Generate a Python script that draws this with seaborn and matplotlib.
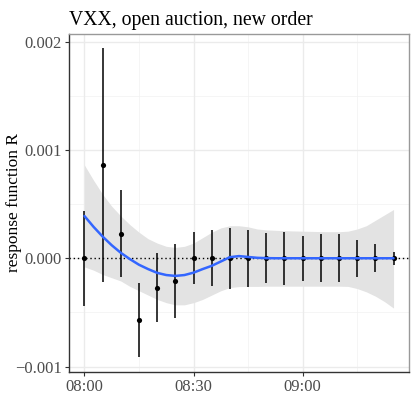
import numpy as np
import pandas as pd
import matplotlib
matplotlib.use("Agg")
import matplotlib.pyplot as plt
import seaborn as sns

# ---- data ----
times = ["08:00", "08:05", "08:10", "08:15", "08:20", "08:25", "08:30", "08:35", "08:40",
         "08:45", "08:50", "08:55", "09:00", "09:05", "09:10", "09:15", "09:20", "09:25"]
response = [0.0, 0.00086, 0.000227, -0.000567, -0.000273, -0.000209, 0.0, 0.0, 0.0,
            0.0, 0.0, 0.0, 0.0, 0.0, 0.0, 0.0, 0.0, 0.0]
err = [0.00044, 0.00108, 0.0004, 0.00034, 0.00032, 0.00034, 0.00024, 0.00026, 0.00028,
       0.000265, 0.00023, 0.000245, 0.00021, 0.00022, 0.00022, 0.00017, 0.00013, 0.00006]

# smoother (minutes after 08:00)
smooth_t = [0, 2.5, 5, 7.5, 10, 12.5, 15, 17.5, 20, 22.5, 25, 27.5, 30, 32.5, 35, 37.5,
            40, 42.5, 45, 47.5, 50, 52.5, 55, 57.5, 60, 62.5, 65, 67.5, 70, 72.5, 75,
            77.5, 80, 82.5, 85]
smooth_y = [0.00039, 0.00029, 0.0002, 0.00012, 0.00005, -0.000008, -0.00006, -0.0001,
            -0.000135, -0.000155, -0.000163, -0.000155, -0.000133, -0.0001, -0.00007,
            -0.00003, 0.00001, 0.00002, 0.000012, 0.000004, 0.000001, 0.0, 0.0, 0.0, 0.0,
            0.0, 0.0, 0.0, 0.0, 0.0, 0.0, 0.0, 0.0, 0.0, 0.0]
smooth_hi = [0.00086, 0.00072, 0.00059, 0.00048, 0.00039, 0.00031, 0.00024, 0.00018,
             0.00014, 0.00011, 0.0001, 0.00011, 0.00014, 0.00019, 0.00024, 0.00028,
             0.0003, 0.0003, 0.00029, 0.00027, 0.000262, 0.000258, 0.000255, 0.000252,
             0.00025, 0.000248, 0.000246, 0.000245, 0.000245, 0.00025, 0.00027, 0.0003,
             0.00035, 0.0004, 0.00045]
smooth_lo = [-0.00008, -0.00011, -0.00015, -0.00018, -0.00021, -0.00026, -0.0003,
             -0.00034, -0.00038, -0.00041, -0.00043, -0.00043, -0.00041, -0.00038,
             -0.00034, -0.0003, -0.00027, -0.000262, -0.00026, -0.00026, -0.000258,
             -0.000258, -0.000258, -0.000258, -0.000258, -0.000258, -0.000258, -0.000258,
             -0.000258, -0.00026, -0.00028, -0.00031, -0.00035, -0.0004, -0.00046]

x_ticks = ["08:00", "08:30", "09:00"]
y_ticks = [-0.001, 0.000, 0.001, 0.002]
y_tick_labels = ["\u22120.001", "0.000", "0.001", "0.002"]
title = "VXX, open auction, new order"
y_label = "response function R"


def to_min(s):
    h, m = s.split(":")
    return (int(h) - 8) * 60 + int(m)


df = pd.DataFrame({"t": [to_min(s) for s in times], "r": response, "e": err})
sm = pd.DataFrame({"t": smooth_t, "y": smooth_y, "lo": smooth_lo, "hi": smooth_hi})

sns.set_theme(style="white")
plt.rcParams["font.family"] = ["Liberation Serif", "DejaVu Serif"]

fig = plt.figure(figsize=(4.15, 4.15), dpi=100)
ax = fig.add_axes([69 / 415, 1 - 372 / 415, 340 / 415, 338 / 415])

# grid
for v in [15, 45, 75]:
    ax.axvline(v, color="#F2F2F2", lw=0.5, zorder=0)
for v in [-0.0005, 0.0005, 0.0015]:
    ax.axhline(v, color="#F2F2F2", lw=0.5, zorder=0)
for v in [to_min(s) for s in x_ticks]:
    ax.axvline(v, color="#EBEBEB", lw=1.0, zorder=0)
for v in y_ticks:
    ax.axhline(v, color="#EBEBEB", lw=1.0, zorder=0)

ax.fill_between(sm["t"], sm["lo"], sm["hi"], color="#E3E3E3", lw=0, zorder=1)
ax.axhline(0, color="black", lw=1.0, ls=(0, (1, 2)), zorder=2)
ax.vlines(df["t"], df["r"] - df["e"], df["r"] + df["e"], color="black", lw=1.1, zorder=3)
sns.scatterplot(data=df, x="t", y="r", ax=ax, color="black", s=14, edgecolor="black",
                linewidth=0, zorder=4, legend=False)
sns.lineplot(data=sm, x="t", y="y", ax=ax, color="#3366FF", lw=1.8, zorder=5)

ax.set_xlim(-4.25, 89.25)
ax.set_ylim(-0.00105, 0.00207)
ax.set_xticks([to_min(s) for s in x_ticks])
ax.set_xticklabels(x_ticks)
ax.set_yticks(y_ticks)
ax.set_yticklabels(y_tick_labels)
ax.set_xlabel("")
ax.set_ylabel(y_label, fontsize=12.5, color="black", va="center")
ax.yaxis.set_label_coords(-0.162, 0.5)
ax.tick_params(axis="both", which="both", length=3, width=0.8, color="#333333",
               labelsize=12, labelcolor="#4D4D4D", pad=2, direction="out",
               bottom=True, left=True)

for side in ["top", "right"]:
    ax.spines[side].set_color("#999999")
    ax.spines[side].set_linewidth(1.0)
for side in ["left", "bottom"]:
    ax.spines[side].set_color("#333333")
    ax.spines[side].set_linewidth(1.0)

fig.text(69 / 415, 1 - 20 / 415, title, fontsize=14.2, color="black", va="center", ha="left")

fig.savefig("out.png", dpi=100)
